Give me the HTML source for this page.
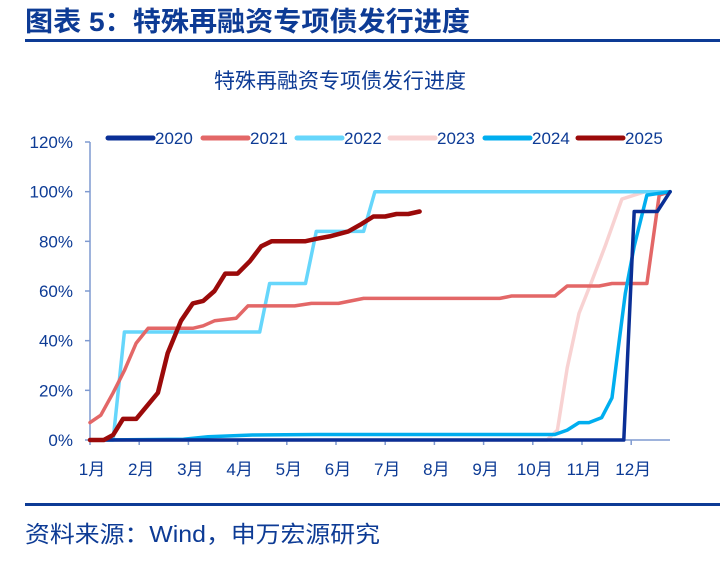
<!DOCTYPE html>
<html><head><meta charset="utf-8"><style>
body{margin:0;width:720px;height:566px;background:#fff;overflow:hidden;font-family:"Liberation Sans","Noto Sans CJK SC",sans-serif;}
</style></head><body>
<svg width="720" height="566" xmlns="http://www.w3.org/2000/svg">
<text x="25" y="31" font-size="27" font-weight="bold" fill="#0d3b95" font-family="Liberation Sans,Noto Sans CJK SC,sans-serif" textLength="445" lengthAdjust="spacingAndGlyphs">图表 5：特殊再融资专项债发行进度</text>
<rect x="25" y="39" width="695" height="3" fill="#0d3b95"/>
<text x="340" y="88" font-size="21" text-anchor="middle" fill="#0d3b95" font-family="Liberation Sans,Noto Sans CJK SC,sans-serif">特殊再融资专项债发行进度</text>
<g id="axes"></g>
<g id="series"></g>
<g id="legend"></g>
<rect x="25" y="503" width="695" height="3" fill="#0d3b95"/>
<text x="25" y="542" font-size="23" fill="#0d3b95" font-family="Liberation Sans,Noto Sans CJK SC,sans-serif" textLength="355" lengthAdjust="spacingAndGlyphs">资料来源：Wind，申万宏源研究</text>
</svg>
<script>
const months=["1月","2月","3月","4月","5月","6月","7月","8月","9月","10月","11月","12月"];
const yTicks=[0,20,40,60,80,100,120];
const years=["2020","2021","2022","2023","2024","2025"];
const colors=["#0a2f96","#e36767","#66d6fb","#f8d2d2","#00aeef","#9b0a0a"];
const m2020=[0,9.3,10.85,11.06,11.53,11.79];
const v2020=[0,0,0,92,92,100];
const m2021=[0,0.22,0.47,0.7,0.94,1.18,2.09,2.3,2.53,2.97,3.21,4.16,4.5,5.05,5.56,8.33,8.57,9.45,9.7,10.35,10.61,11.32,11.57,11.79];
const v2021=[7,10,19,28,39,45,45,46,48,49,54,54,55,55,57,57,58,58,62,62,63,63,98.6,100];
const m2022=[0,0.47,0.7,3.45,3.65,4.38,4.6,5.56,5.79,11.79];
const v2022=[0,0,43.5,43.5,63,63,84,84,100,100];
const m2023=[0,9.29,9.5,9.7,9.94,10.2,10.47,10.81,11.28,11.79];
const v2023=[0,0,4,29,51,64,78,97,100,100];
const m2024=[0,1.9,2.4,3.3,4.6,9.45,9.7,9.94,10.14,10.4,10.61,10.75,10.88,11.06,11.32,11.79];
const v2024=[0,0.3,1.3,2,2.2,2.2,4,7,7,9,17,39,59,78,98.6,100];
const m2025=[0,0.28,0.47,0.67,0.94,1.38,1.58,1.85,2.09,2.3,2.53,2.75,3.0,3.25,3.48,3.69,4.37,4.6,4.87,5.25,5.52,5.76,6.0,6.23,6.47,6.7];
const v2025=[0,0,2,8.5,8.5,19,35,48,55,56,60,67,67,72,78,80,80,81,82,84,87,90,90,91,91,92];
const NS="http://www.w3.org/2000/svg";
const X=m=>90+m*49.2;
const Y=v=>440-v*(298/120);
function mk(t,a,p){const e=document.createElementNS(NS,t);for(const k in a)e.setAttribute(k,a[k]);p.appendChild(e);return e;}
const ax=document.getElementById('axes');
const yl=mk('line',{x1:90,y1:Y(120),x2:90,y2:440,stroke:'#7f9ad0','stroke-width':1.5},ax);


const xl=mk('line',{x1:90,y1:440,x2:670,y2:440,stroke:'#7f9ad0','stroke-width':1.5},ax);


yTicks.forEach(v=>{
 mk('line',{x1:85,y1:Y(v),x2:90,y2:Y(v),stroke:'#7f9ad0','stroke-width':1.5},ax);
 const t=mk('text',{x:73,y:Y(v)+6,'text-anchor':'end','font-size':17,fill:'#0d3b95'},ax);
 t.textContent=v+'%';
 
 
});
months.forEach((s,i)=>{
 mk('line',{x1:X(i),y1:440,x2:X(i),y2:445,stroke:'#7f9ad0','stroke-width':1.5},ax);
 const t=mk('text',{x:X(i)+2,y:475,'text-anchor':'middle','font-size':17,fill:'#0d3b95','font-family':'Liberation Sans,Noto Sans CJK SC,sans-serif'},ax);
 t.textContent=s;
 
 
});
const data={"2020":[m2020,v2020],"2021":[m2021,v2021],"2022":[m2022,v2022],"2023":[m2023,v2023],"2024":[m2024,v2024],"2025":[m2025,v2025]};
const order=["2023","2022","2021","2024","2020","2025"];
const sg=document.getElementById('series');
order.forEach(y=>{
 const [ms,vs]=data[y];
 const pts=ms.map((m,i)=>X(m).toFixed(1)+','+Y(vs[i]).toFixed(1)).join(' ');
 const idx=years.indexOf(y);
 const p=mk('polyline',{points:pts,fill:'none',stroke:colors[idx],'stroke-width':y==="2025"?4.5:3.5,'stroke-linejoin':'round','stroke-linecap':'round'},sg);
 
 
});
const lg=document.getElementById('legend');
const lx=[108,203,297,390,485,578];
years.forEach((y,i)=>{
 const g=mk('g',{},lg);
 
 
 mk('line',{x1:lx[i],y1:138,x2:lx[i]+45,y2:138,stroke:colors[i],'stroke-width':5,'stroke-linecap':'round'},g);
 const t=mk('text',{x:lx[i]+47,y:144,'font-size':17,fill:'#0d3b95'},g);
 t.textContent=y;
});
</script>
</body></html>
